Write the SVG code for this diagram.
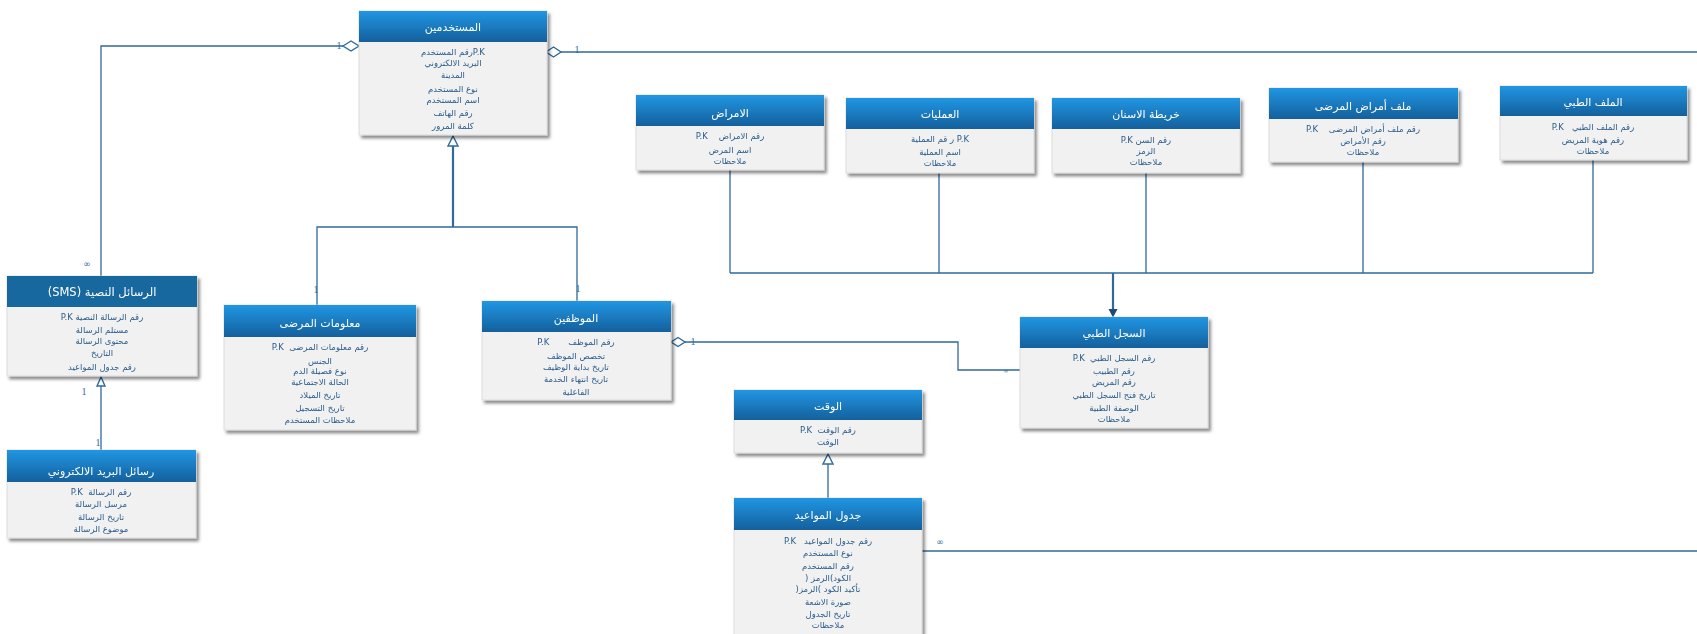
<svg xmlns="http://www.w3.org/2000/svg" width="1697" height="634" viewBox="0 0 1697 634">
  <defs>
    <linearGradient id="hdr" x1="0" y1="0" x2="0" y2="1">
      <stop offset="0" stop-color="#2196e3"/>
      <stop offset="1" stop-color="#14609c"/>
    </linearGradient>
    <filter id="shadow" x="-5%" y="-5%" width="115%" height="120%">
      <feDropShadow dx="2.5" dy="3" stdDeviation="1.6" flood-color="#000" flood-opacity="0.45"/>
    </filter>
  </defs>
  <style>
    .body { fill: #f1f1f1; stroke: #d8d8d8; stroke-width: 0.8; }
    .head { fill: url(#hdr); }
    .headflat { fill: #17679f; }
    .title { font-family: "DejaVu Sans", "Noto Sans", sans-serif; font-size: 11px; fill: #ffffff; text-anchor: middle; }
    .attr { font-family: "DejaVu Sans", "Noto Sans", sans-serif; font-size: 8.5px; fill: #2b5d8c; text-anchor: middle; }
    .line { fill: none; stroke: #2f6a9c; stroke-width: 1.3; }
    .thick { fill: none; stroke: #2f6a9c; stroke-width: 2.2; }
    .hollow { fill: #ffffff; stroke: #2f6a9c; stroke-width: 1.4; }
    .mult { font-family: "Liberation Serif", serif; font-size: 10px; fill: #2f6a9c; text-anchor: middle; }
    .inf { font-family: "DejaVu Sans", sans-serif; font-size: 9px; fill: #2f6a9c; text-anchor: middle; }
  </style>

  <!-- connectors -->
  <g id="connectors">
    <!-- users to text messages -->
    <path class="line" d="M343 46 H101 V276"/>
    <path class="hollow" d="M343 46 L351 41 L359 46 L351 51 Z"/>
    <text class="mult" x="339" y="49">1</text>
    <text class="inf" x="87" y="267">∞</text>
    <!-- users to the right edge -->
    <path class="line" d="M561 52 H1697"/>
    <path class="hollow" d="M546 52 L553.5 47 L561 52 L553.5 57 Z"/>
    <text class="mult" x="577" y="53">1</text>
    <!-- inheritance: patients and staff from users -->
    <path class="thick" d="M453 146 V227"/>
    <path class="line" d="M317 305 V227 H577 V301"/>
    <path class="hollow" d="M453 136 L458 146 L448 146 Z"/>
    <text class="mult" x="316" y="293">1</text>
    <text class="mult" x="578" y="292">1</text>
    <!-- email messages from text messages -->
    <path class="line" d="M101 386 V450"/>
    <path class="hollow" d="M101 377 L105 386 L97 386 Z"/>
    <text class="mult" x="84" y="395">1</text>
    <text class="mult" x="98" y="446">1</text>
    <!-- staff to medical record -->
    <path class="line" d="M685 342 H958 V370 H1020"/>
    <path class="hollow" d="M671 342 L678 337.5 L685 342 L678 346.5 Z"/>
    <text class="mult" x="693" y="345">1</text>
    <text class="inf" x="1006" y="373" style="font-size:6px">∞</text>
    <!-- medical data tables to medical record -->
    <path class="line" d="M730 170 V273 M939 173 V273 M1146 173 V273 M1363 162 V273 M1593 160 V273 M730 273 H1593"/>
    <path class="thick" d="M1113 273 V310" stroke="#22507d"/>
    <path d="M1108.5 309 L1117.5 309 L1113 317.5 Z" fill="#1f4b75"/>
    <!-- time to appointments -->
    <path class="line" d="M828 464 V498"/>
    <path class="hollow" d="M828 454 L833 464 L823 464 Z"/>
    <!-- appointments to the right edge -->
    <path class="line" d="M922 551 H1697"/>
    <text class="inf" x="940" y="545">∞</text>
  </g>

  <!-- users -->
  <g id="users" filter="url(#shadow)">
    <rect class="body" x="359" y="11" width="188" height="124"/>
    <rect class="head" x="359" y="11" width="188" height="31"/>
    <text class="title" x="453" y="31">المستخدمين</text>
    <text class="attr" x="453" y="55">رقم المستخدمP.K</text>
    <text class="attr" x="453" y="66">البريد الالكتروني</text>
    <text class="attr" x="453" y="78">المدينة</text>
    <text class="attr" x="453" y="92">نوع المستخدم</text>
    <text class="attr" x="453" y="103">اسم المستخدم</text>
    <text class="attr" x="453" y="116">رقم الهاتف</text>
    <text class="attr" x="453" y="129">كلمة المرور</text>
  </g>

  <!-- text messages -->
  <g id="sms" filter="url(#shadow)">
    <rect class="body" x="7" y="276" width="190" height="100"/>
    <rect class="headflat" x="7" y="276" width="190" height="31"/>
    <text class="title" x="102" y="296" style="font-size:11.5px">(SMS) الرسائل النصية</text>
    <text class="attr" x="102" y="320">P.K رقم الرسالة النصية</text>
    <text class="attr" x="102" y="333">مستلم الرسالة</text>
    <text class="attr" x="102" y="344">محتوى الرسالة</text>
    <text class="attr" x="102" y="356">التاريخ</text>
    <text class="attr" x="102" y="370">رقم جدول المواعيد</text>
  </g>

  <!-- email messages -->
  <g id="email" filter="url(#shadow)">
    <rect class="body" x="7" y="450" width="189" height="88"/>
    <rect class="head" x="7" y="450" width="189" height="32"/>
    <text class="title" x="101" y="475">رسائل البريد الالكتروني</text>
    <text class="attr" x="101" y="495" xml:space="preserve">P.K  رقم الرسالة</text>
    <text class="attr" x="101" y="507">مرسل الرسالة</text>
    <text class="attr" x="101" y="520">تاريخ الرسالة</text>
    <text class="attr" x="101" y="532">موضوع الرسالة</text>
  </g>

  <!-- patient information -->
  <g id="patients" filter="url(#shadow)">
    <rect class="body" x="224" y="305" width="192" height="125"/>
    <rect class="head" x="224" y="305" width="192" height="32"/>
    <text class="title" x="320" y="327">معلومات المرضى</text>
    <text class="attr" x="320" y="350" xml:space="preserve">P.K  رقم معلومات المرضى</text>
    <text class="attr" x="320" y="364">الجنس</text>
    <text class="attr" x="320" y="374">نوع فصيلة الدم</text>
    <text class="attr" x="320" y="385">الحالة الاجتماعية</text>
    <text class="attr" x="320" y="398">تاريخ الميلاد</text>
    <text class="attr" x="320" y="411">تاريخ التسجيل</text>
    <text class="attr" x="320" y="423">ملاحظات المستخدم</text>
  </g>

  <!-- staff -->
  <g id="staff" filter="url(#shadow)">
    <rect class="body" x="482" y="301" width="189" height="99"/>
    <rect class="head" x="482" y="301" width="189" height="31"/>
    <text class="title" x="576" y="322">الموظفين</text>
    <text class="attr" x="576" y="345" xml:space="preserve">P.K       رقم الموظف</text>
    <text class="attr" x="576" y="359">تخصص الموظف</text>
    <text class="attr" x="576" y="370">تاريخ بداية الوظيف</text>
    <text class="attr" x="576" y="382">تاريخ انتهاء الخدمة</text>
    <text class="attr" x="576" y="395">الفاعلية</text>
  </g>

  <!-- diseases -->
  <g id="diseases" filter="url(#shadow)">
    <rect class="body" x="636" y="95" width="188" height="75"/>
    <rect class="head" x="636" y="95" width="188" height="31"/>
    <text class="title" x="730" y="117">الامراض</text>
    <text class="attr" x="730" y="139" xml:space="preserve">P.K    رقم الامراض</text>
    <text class="attr" x="730" y="153">اسم المرض</text>
    <text class="attr" x="730" y="164">ملاحظات</text>
  </g>

  <!-- operations -->
  <g id="operations" filter="url(#shadow)">
    <rect class="body" x="846" y="98" width="188" height="75"/>
    <rect class="head" x="846" y="98" width="188" height="31"/>
    <text class="title" x="940" y="118">العمليات</text>
    <text class="attr" x="940" y="142">ر قم العملية P.K</text>
    <text class="attr" x="940" y="155">اسم العملية</text>
    <text class="attr" x="940" y="166">ملاحظات</text>
  </g>

  <!-- dental chart -->
  <g id="dental" filter="url(#shadow)">
    <rect class="body" x="1052" y="98" width="188" height="75"/>
    <rect class="head" x="1052" y="98" width="188" height="31"/>
    <text class="title" x="1146" y="118">خريطة الاسنان</text>
    <text class="attr" x="1146" y="143">P.K رقم السن</text>
    <text class="attr" x="1146" y="154">الرمز</text>
    <text class="attr" x="1146" y="165">ملاحظات</text>
  </g>

  <!-- patient disease files -->
  <g id="disease-files" filter="url(#shadow)">
    <rect class="body" x="1269" y="88" width="189" height="74"/>
    <rect class="head" x="1269" y="88" width="189" height="31"/>
    <text class="title" x="1363" y="110">ملف أمراض المرضى</text>
    <text class="attr" x="1363" y="132" xml:space="preserve">P.K    رقم ملف أمراض المرضى</text>
    <text class="attr" x="1363" y="144">رقم الأمراض</text>
    <text class="attr" x="1363" y="155">ملاحظات</text>
  </g>

  <!-- medical file -->
  <g id="medical-file" filter="url(#shadow)">
    <rect class="body" x="1500" y="86" width="187" height="74"/>
    <rect class="head" x="1500" y="86" width="187" height="30"/>
    <text class="title" x="1593" y="106">الملف الطبي</text>
    <text class="attr" x="1593" y="130" xml:space="preserve">P.K   رقم الملف الطبي</text>
    <text class="attr" x="1593" y="143">رقم هوية المريض</text>
    <text class="attr" x="1593" y="154">ملاحظات</text>
  </g>

  <!-- medical record -->
  <g id="medical-record" filter="url(#shadow)">
    <rect class="body" x="1020" y="317" width="188" height="111"/>
    <rect class="head" x="1020" y="317" width="188" height="31"/>
    <text class="title" x="1114" y="337">السجل الطبي</text>
    <text class="attr" x="1114" y="361" xml:space="preserve">P.K  رقم السجل الطبي</text>
    <text class="attr" x="1114" y="374">رقم الطبيب</text>
    <text class="attr" x="1114" y="385">رقم المريض</text>
    <text class="attr" x="1114" y="398">تاريخ فتح السجل الطبي</text>
    <text class="attr" x="1114" y="411">الوصفة الطبية</text>
    <text class="attr" x="1114" y="422">ملاحظات</text>
  </g>

  <!-- time -->
  <g id="time" filter="url(#shadow)">
    <rect class="body" x="734" y="390" width="188" height="63"/>
    <rect class="head" x="734" y="390" width="188" height="30"/>
    <text class="title" x="828" y="410">الوقت</text>
    <text class="attr" x="828" y="433" xml:space="preserve">P.K  رقم الوقت</text>
    <text class="attr" x="828" y="445">الوقت</text>
  </g>

  <!-- appointments -->
  <g id="appointments" filter="url(#shadow)">
    <rect class="body" x="734" y="498" width="188" height="145"/>
    <rect class="head" x="734" y="498" width="188" height="32"/>
    <text class="title" x="828" y="519">جدول المواعيد</text>
    <text class="attr" x="828" y="544" xml:space="preserve">P.K   رقم جدول المواعيد</text>
    <text class="attr" x="828" y="556">نوع المستخدم</text>
    <text class="attr" x="828" y="569">رقم المستخدم</text>
    <text class="attr" x="828" y="581" xml:space="preserve">)&#x200E; الرمز&#x200E;(&#x200E;الكود</text>
    <text class="attr" x="828" y="592" xml:space="preserve">)&#x200E;الرمز&#x200E;(&#x200E; تأكيد الكود</text>
    <text class="attr" x="828" y="605">صورة الاشعة</text>
    <text class="attr" x="828" y="617">تاريخ الجدول</text>
    <text class="attr" x="828" y="628">ملاحظات</text>
  </g>
</svg>
